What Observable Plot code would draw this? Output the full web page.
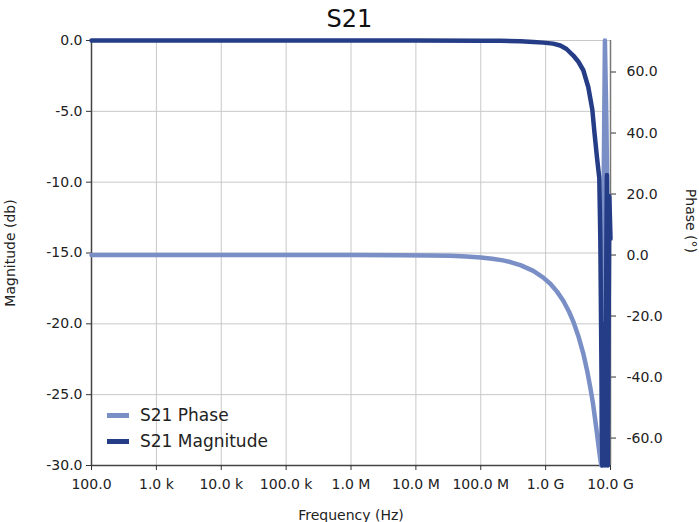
<!DOCTYPE html>
<html>
<head>
<meta charset="utf-8">
<script src="https://cdn.jsdelivr.net/npm/d3@7"></script>
<script src="https://cdn.jsdelivr.net/npm/@observablehq/plot@0.6"></script>
<style>
  html, body { margin: 0; padding: 0; background: #fff; }
  #wrap { position: relative; width: 699px; height: 522px; font-family: "DejaVu Sans", sans-serif; }
  #title { height: 30px; width: 699px; text-align: center; font-size: 24px; line-height: 39px; color: #111; }
  .legend { position: absolute; left: 107px; top: 0; font-size: 17px; color: #222; }
  .legend .row { position: absolute; white-space: nowrap; }
  .legend .sw { position: absolute; left: 0; width: 22px; height: 5px; }
  .legend .lab { position: absolute; left: 33px; top: -8px; line-height: 20px; }
</style>
</head>
<body>
<div id="wrap">
  <div id="title">S21</div>
  <div id="chart"></div>
  <div class="legend" id="legend"></div>
</div>
<script>
// ---- data ----
const seriesNames = ["S21 Phase", "S21 Magnitude"];
const seriesColors = ["#7b8fc7", "#253d87"];

const magFreq = [1e2, 1e3, 1e4, 1e5, 1e6, 1e7, 1e8, 2.0e8, 4.08e8, 6.5e8, 9.2e8, 1.3e9, 1.68e9, 2.1e9, 2.67e9, 3.2e9, 3.81e9, 4.55e9, 5.25e9, 5.63e9, 6.2e9, 6.72e9, 6.97e9, 7.22e9, 7.48e9, 7.9e9, 8.2e9, 8.8e9, 9.1e9, 9.6e9, 1e10];
const magDb   = [0, 0, 0, 0, 0, 0, -0.01, -0.02, -0.05, -0.1, -0.15, -0.22, -0.35, -0.6, -1.06, -1.5, -2.1, -3.3, -4.9, -6.4, -8.3, -9.7, -14, -22, -30, -20, -30, -9.5, -30, -11, -14];

const phaseFreq = [1e2, 1e3, 1e4, 1e5, 1e6, 5.8e6, 1.67e7, 3.4e7, 6e7, 1e8, 1.5e8, 2.2e8, 2.86e8, 4.08e8, 6.46e8, 9.2e8, 1.18e9, 1.5e9, 1.87e9, 2.3e9, 2.67e9, 3.2e9, 3.81e9, 4.4e9, 4.88e9, 5.4e9, 5.83e9, 6.3e9, 6.72e9, 7.0e9, 7.22e9, 8.2e9, 8.62e9, 8.94e9, 9.25e9];
const phaseDeg  = [0, 0, 0, 0, -0.01, -0.05, -0.13, -0.27, -0.48, -0.8, -1.2, -1.76, -2.3, -3.3, -5.2, -7.4, -9.4, -12, -15, -18.6, -21.8, -26.6, -32.3, -38.3, -43.4, -49, -54.3, -59.8, -64.5, -67.3, -69, 70.3, 45, 20, 5];

const xTicks = [1e2, 1e3, 1e4, 1e5, 1e6, 1e7, 1e8, 1e9, 1e10];
const xTickLabels = ["100.0", "1.0 k", "10.0 k", "100.0 k", "1.0 M", "10.0 M", "100.0 M", "1.0 G", "10.0 G"];
const magTicks = [0, -5, -10, -15, -20, -25, -30];
const phaseTicks = [60, 40, 20, 0, -20, -40, -60];

const magDomain = [-30, 0];
const phaseDomain = [-69.0, 70.33];

// ---- build ----
const toMag = d3.scaleLinear().domain(phaseDomain).range(magDomain);
const magData = magFreq.map((f, i) => ({f, v: magDb[i]}));
const phaseData = phaseFreq.map((f, i) => ({f, v: toMag(phaseDeg[i])}));
const fmt1 = v => (Math.round(v * 10) / 10).toFixed(1);

const chart = Plot.plot({
  width: 699,
  height: 492,
  marginTop: 10,
  marginBottom: 57,
  marginLeft: 91,
  marginRight: 89,
  style: {fontFamily: "DejaVu Sans, sans-serif", fontSize: "14px", color: "#222", background: "white"},
  x: {type: "log", domain: [1e2, 1e10]},
  y: {domain: magDomain},
  marks: [
    Plot.gridX(xTicks, {stroke: "#c8c8c8", strokeOpacity: 1}),
    Plot.gridY(magTicks, {stroke: "#c8c8c8", strokeOpacity: 1}),
    Plot.ruleX([1e10], {stroke: "#777", strokeWidth: 1.5}),
    Plot.ruleX([1e2], {stroke: "#444", strokeWidth: 1.5}),
    Plot.ruleY([-30], {stroke: "#444", strokeWidth: 1.5}),
    Plot.axisX(xTicks, {
      tickSize: 5, tickPadding: 9, stroke: "#333",
      tickFormat: d => xTickLabels[xTicks.indexOf(d)],
      label: "Frequency (Hz)", labelAnchor: "center", labelArrow: "none", labelOffset: 54,
      fontSize: 14
    }),
    Plot.axisY(magTicks, {
      anchor: "left", tickSize: 5, tickPadding: 4, stroke: "#333",
      tickFormat: fmt1,
      label: "Magnitude (db)", labelAnchor: "center", labelArrow: "none", labelOffset: 86,
      fontSize: 14
    }),
    Plot.axisY(phaseTicks.map(p => toMag(p)), {
      anchor: "right", tickSize: 5, tickPadding: 11, stroke: "#333",
      tickFormat: d => fmt1(toMag.invert(d)),
      label: null,
      fontSize: 14
    }),
    Plot.text(["Phase (°)"], {frameAnchor: "right", text: d => d, rotate: 90, dx: 80, fontSize: 14, fill: "#222"}),
    Plot.line(phaseData, {x: "f", y: "v", stroke: seriesColors[0], strokeWidth: 4.5}),
    Plot.line(magData, {x: "f", y: "v", stroke: seriesColors[1], strokeWidth: 4.5})
  ]
});
document.getElementById("chart").appendChild(chart);

// legend overlay
const legend = document.getElementById("legend");
const rowsY = [415, 441];
seriesNames.forEach((name, i) => {
  const row = document.createElement("div");
  row.className = "row";
  row.style.top = (rowsY[i] - 2) + "px";
  row.innerHTML = `<div class="sw" style="background:${seriesColors[i]}"></div><div class="lab">${name}</div>`;
  legend.appendChild(row);
});
</script>
</body>
</html>
